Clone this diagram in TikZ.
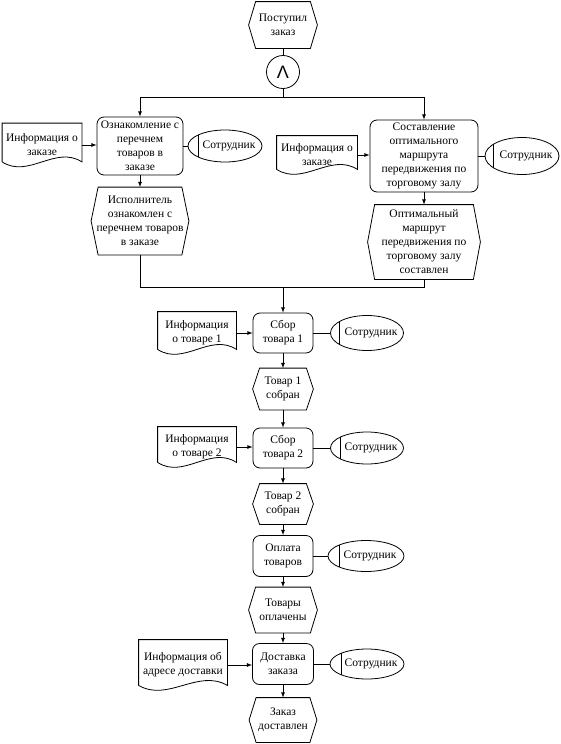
\documentclass[tikz,border=0pt]{standalone}
\usepackage{fontspec}
\setmainfont{Liberation Serif}
\newfontfamily\andfont{Liberation Sans}
\usetikzlibrary{calc,shapes.geometric}

\begin{document}
\begin{tikzpicture}[x=1pt, y=-1pt, >=latex, line width=0.8pt,
    font=\fontsize{11.5}{14}\selectfont,
    fn/.style={draw, rounded corners=7pt, align=center, inner sep=0pt},
    ev/.style={align=center, inner sep=0pt},
    doc/.style={align=center, inner sep=0pt},
    org/.style={draw, ellipse, inner sep=0pt, label={[xshift=4pt]center:#1}},
    con/.style={draw, circle, minimum size=33pt, inner sep=0pt}]
    \useasboundingbox (0,0) rectangle (560,744);

    % start
    \node[ev, minimum width=68pt, minimum height=46pt] (e0) at (283,25) {Поступил\\заказ};
    \node[con] (and1) at (283,72) {\andfont\fontsize{18}{18}\selectfont Λ};
    \coordinate (split) at (283,97);

    % left branch
    \node[fn, minimum width=86pt, minimum height=58pt] (f1) at (140,146) {Ознакомление с\\перечнем\\товаров в\\заказе};
    \node[doc, minimum width=79pt, minimum height=43pt] (d1) at (42,145) {Информация о\\заказе};
    \node[org=Сотрудник, minimum width=74pt, minimum height=32pt] (o1) at (225,146) {};
    \node[ev, minimum width=97pt, minimum height=67pt] (e1) at (140,221) {Исполнитель\\ознакомлен с\\перечнем товаров\\в заказе};

    % right branch
    \node[fn, minimum width=108pt, minimum height=72pt] (f2) at (424,156) {Составление\\оптимального\\маршрута\\передвижения по\\торговому залу};
    \node[doc, minimum width=80pt, minimum height=38pt] (d2) at (317,155) {Информация о\\заказе};
    \node[org=Сотрудник, minimum width=74pt, minimum height=37pt] (o2) at (522,156) {};
    \node[ev, minimum width=112pt, minimum height=74pt] (e2) at (424,242) {Оптимальный\\маршрут\\передвижения по\\торговому залу\\составлен};
    \coordinate (join) at (283,287);

    % picking
    \node[fn, minimum width=60pt, minimum height=40pt] (f3) at (283,333) {Сбор\\товара 1};
    \node[doc, minimum width=78pt, minimum height=42pt] (d3) at (197,333) {Информация\\о товаре 1};
    \node[org=Сотрудник, minimum width=73pt, minimum height=35pt] (o3) at (367,333) {};
    \node[ev, minimum width=60pt, minimum height=41pt] (e3) at (283,389) {Товар 1\\собран};
    \node[fn, minimum width=60pt, minimum height=40pt] (f4) at (283,448) {Сбор\\товара 2};
    \node[doc, minimum width=78pt, minimum height=40pt] (d4) at (197,447) {Информация\\о товаре 2};
    \node[org=Сотрудник, minimum width=73pt, minimum height=32pt] (o4) at (367,448) {};
    \node[ev, minimum width=60pt, minimum height=40pt] (e4) at (283,504) {Товар 2\\собран};

    % payment and delivery
    \node[fn, minimum width=60pt, minimum height=41pt] (f5) at (283,556) {Оплата\\товаров};
    \node[org=Сотрудник, minimum width=76pt, minimum height=31pt] (o5) at (366,556) {};
    \node[ev, minimum width=68pt, minimum height=45pt] (e5) at (283,610) {Товары\\оплачены};
    \node[fn, minimum width=61pt, minimum height=41pt] (f6) at (283,664) {Доставка\\заказа};
    \node[doc, minimum width=88pt, minimum height=50pt] (d5) at (183,665) {Информация об\\адресе доставки};
    \node[org=Сотрудник, minimum width=74pt, minimum height=30pt] (o6) at (367,664) {};
    \node[ev, minimum width=67pt, minimum height=44pt] (e6) at (283,720) {Заказ\\доставлен};

    % event and document outlines
    \foreach \n in {e0,e1,e2,e3,e4,e5,e6}
        \draw (\n.west) -- ([xshift=7pt]\n.north west) -- ([xshift=-7pt]\n.north east) -- (\n.east)
            -- ([xshift=-7pt]\n.south east) -- ([xshift=7pt]\n.south west) -- cycle;
    \foreach \n in {d1,d2,d3,d4,d5}
        \draw ([yshift=5pt]\n.south west) -- (\n.north west) -- (\n.north east) -- ([yshift=5pt]\n.south east)
            .. controls ($(\n.south east)!.33!(\n.south west)+(0pt,22pt)$)
            and ($(\n.south west)!.33!(\n.south east)+(0pt,-12pt)$) .. ([yshift=5pt]\n.south west);
    \foreach \n in {o1,o2,o3,o4,o5,o6}
        \draw (\n.157) -- (\n.203);

    % flow
    \draw (e0) -- (and1);
    \draw (and1) -- (split);
    \draw[->] (split) -| (f1);
    \draw[->] (split) -| (f2);
    \draw[->] (f1) -- (e1);
    \draw[->] (f2) -- (e2);
    \draw (e1) |- (join);
    \draw (e2) |- (join);
    \draw[->] (join) -- (f3);
    \foreach \a/\b in {f3/e3, e3/f4, f4/e4, e4/f5, f5/e5, e5/f6, f6/e6}
        \draw[->] (\a) -- (\b);
    \foreach \a/\b in {d1/f1, d2/f2, d3/f3, d4/f4, d5/f6}
        \draw[->] (\a.east) -- (\a.east -| \b.west);
    \foreach \a/\b in {f1/o1, f2/o2, f3/o3, f4/o4, f5/o5, f6/o6}
        \draw (\a.east) -- (\b.west);
\end{tikzpicture}
\end{document}
